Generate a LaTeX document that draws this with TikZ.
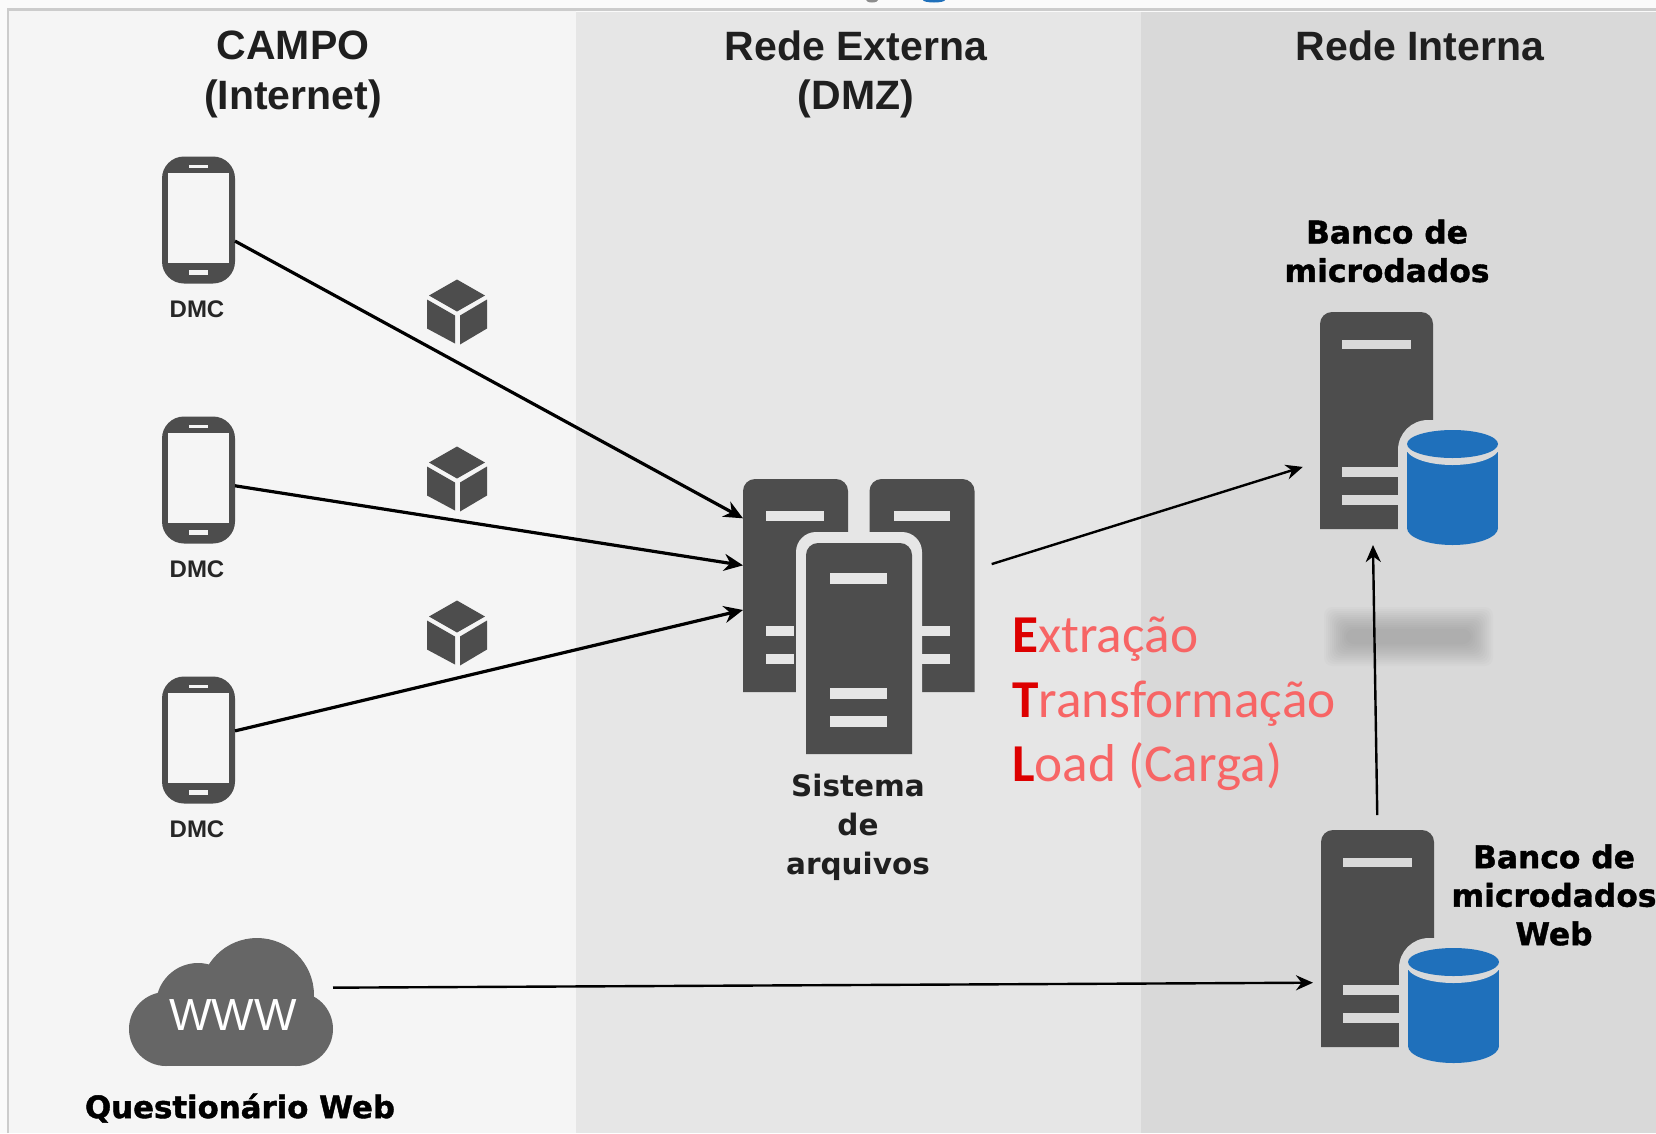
\documentclass[tikz,border=0pt]{standalone}
\usepackage{fontspec}
\setmainfont{Liberation Sans}
\newfontfamily\heavyfont{DejaVu Sans}
\newfontfamily\blackfont{DejaVu Sans}[BoldFeatures={FakeBold=1.3}]
\newfontfamily\etlfont{Carlito}
\usetikzlibrary{arrows.meta}
\definecolor{campobg}{HTML}{F5F5F5}
\definecolor{dmzbg}{HTML}{E6E6E6}
\definecolor{internabg}{HTML}{D9D9D9}
\definecolor{framegray}{HTML}{CCCCCC}
\definecolor{icongray}{HTML}{4D4D4D}
\definecolor{cloudgray}{HTML}{666666}
\definecolor{dbblue}{HTML}{1F70BB}
\definecolor{etlred}{HTML}{DD0000}
\definecolor{etlsoft}{HTML}{F76565}
\tikzset{
	headtxt/.style={align=center,text=black!88,font=\fontsize{41}{49.5}\selectfont\bfseries},
	heavytxt/.style={align=center,text=black,inner sep=0pt,font=\fontsize{31.3}{38.5}\selectfont\blackfont\bfseries},
	dmctxt/.style={text=black!85,inner sep=0pt,font=\fontsize{24}{28}\selectfont\bfseries},
	phonebody/.style={fill=icongray,minimum width=73pt,minimum height=127pt,inner sep=0pt,outer sep=0pt,rounded corners=22pt},
	phonescreen/.style={fill=campobg,minimum width=61pt,minimum height=90pt,inner sep=0pt,outer sep=0pt},
	srvbox/.style={minimum width=#1,minimum height=217pt,inner sep=0pt,outer sep=0pt},
	flow/.style={draw=black,line width=3.2pt,-{Stealth[length=19pt,width=17pt]}},
	thinflow/.style={draw=black,line width=2.4pt,-{Stealth[length=17pt,width=15pt]}}
}
\begin{document}
\begin{tikzpicture}[x=1pt,y=-1pt]
	\useasboundingbox (0,0) rectangle (1656,1133);
	\fill[white!98!black] (0,0) rectangle (1656,1133);
	% Marks above the frame
	\fill[black!45] (872,0) ellipse (6pt and 2.5pt);
	\fill[dbblue] (934,0) ellipse (11pt and 2.5pt);
	% Columns
	\fill[campobg] (8,10) rectangle (576,1133);
	\fill[dmzbg] (576,12) rectangle (1141,1133);
	\fill[internabg] (1141,12) rectangle (1656,1133);
	\draw[framegray,line width=2.6pt] (8,1133) -- (8,9.5) -- (1656,9.5);
	\node[headtxt] (headCampo) at (293,74.5) {CAMPO\\(Internet)};
	\node[headtxt] (headDmz) at (856,74.5) {Rede Externa\\(DMZ)};
	\node[headtxt] (headInterna) at (1420,46) {Rede Interna};
	% Phones
	\foreach \n/\y in {A/220,B/480,C/740}{
		\node[phonebody] (phone\n) at (198.5,\y) {};
		\node[phonescreen] (screen\n) at (198.5,\y-2) {};
		\fill[campobg] (189,\y-55) rectangle (208,\y-52);
		\fill[campobg] (189,\y+50) rectangle (208,\y+55);
		\node[dmctxt] (dmc\n) at (197,\y+89) {DMC};
	}
	% Cubes
	\foreach \y in {312.5,479.5,633.5}{
		\fill[icongray] (457,\y-33) -- (485,\y-17) -- (457,\y-1) -- (429,\y-17) -- cycle;
		\fill[icongray] (427,\y-13) -- (455,\y+3) -- (455,\y+31) -- (427,\y+16) -- cycle;
		\fill[icongray] (460,\y+3) -- (487,\y-13) -- (487,\y+16) -- (460,\y+32) -- cycle;
	}
	% File servers, back ones
	\foreach \n/\x/\s/\e/\l in {srvLeft/795.5/766/824/766,srvRight/922/894/950/922}{
		\node[srvbox=105pt,minimum height=213pt] (\n) at (\x,585.5) {};
		\fill[icongray] (\n.south west) [rounded corners=12pt] -- (\n.north west) -- (\n.north east) [sharp corners] -- (\n.south east) -- cycle;
		\fill[dmzbg] (\s,511) rectangle (\e,521);
		\fill[dmzbg] (\l,626) rectangle (\l+28,636);
		\fill[dmzbg] (\l,654) rectangle (\l+28,664);
	}
	% File server, front one
	\fill[dmzbg,rounded corners=20pt] (796,770) -- (796,532) -- (922,532) -- (922,770) -- cycle;
	\fill[dmzbg] (796,700) rectangle (922,770);
	\node[srvbox=106pt,minimum height=211pt] (srvFront) at (859,648.5) {};
	\fill[icongray] (srvFront.south west) [rounded corners=12pt] -- (srvFront.north west) -- (srvFront.north east) [sharp corners] -- (srvFront.south east) -- cycle;
	\foreach \y in {573,688,716}{
		\fill[dmzbg] (830,\y) rectangle (887,\y+10.5);
	}
	\node[heavytxt,text=black!88,font=\fontsize{29.5}{39}\selectfont\heavyfont\bfseries] (sistema) at (858,827) {Sistema\\de\\arquivos};
	% Database servers
	\foreach \n/\x/\y in {dbA/0/0,dbB/1/518}{
		\node[srvbox=113pt] (\n) at (1376.5+\x,420.5+\y) {};
		\fill[icongray] (\n.south west) [rounded corners=12pt] -- (\n.north west) -- (\n.north east) [sharp corners] -- (\n.south east) -- cycle;
		\fill[internabg] (1342+\x,340+\y) rectangle (1411+\x,349+\y);
		\fill[internabg] (1342+\x,467+\y) rectangle (1400+\x,477+\y);
		\fill[internabg] (1342+\x,495+\y) rectangle (1400+\x,505+\y);
		\fill[internabg,rounded corners=30pt] (1398+\x,570+\y) -- (1398+\x,420+\y) -- (1510+\x,420+\y) -- (1510+\x,570+\y) -- cycle;
		\fill[internabg] (1398+\x,480+\y) rectangle (1470+\x,560+\y);
		% Cylinder
		\fill[dbblue] (1407+\x,452+\y) rectangle (1498+\x,528+\y);
		\fill[dbblue] (1452.5+\x,528+\y) ellipse (45.5pt and 17pt);
		\fill[internabg] (1452.5+\x,447+\y) ellipse (47pt and 18pt);
		\fill[dbblue] (1452.5+\x,444+\y) ellipse (45.5pt and 14pt);
	}
	\node[heavytxt] (bancoA) at (1387,251) {Banco de\\microdados};
	\node[heavytxt] (bancoB) at (1554,895) {Banco de\\microdados\\Web};
	% Blurred text
	\foreach \i in {0,1,...,11}{
		\fill[black,opacity=0.016,rounded corners=8pt] (1324+2*\i,607+2*\i) rectangle (1493-2*\i,666-2*\i);
	}
	% Cloud
	\foreach \x/\y/\r in {166/1029/37,296/1029/37,257/995/57,198/1005/42}{
		\fill[cloudgray] (\x,\y) circle (\r pt);
	}
	\fill[cloudgray] (166,1000) rectangle (296,1066);
	\node[minimum width=204pt,minimum height=128pt,inner sep=0pt,outer sep=0pt] (cloud) at (231,1002) {};
	\node[text=white,inner sep=0pt,font=\fontsize{45}{50}\selectfont] (www) at (233,1015) {WWW};
	\node[heavytxt,font=\fontsize{30.8}{38}\selectfont\blackfont\bfseries] (quest) at (240,1108) {Questionário Web};
	% ETL
	\node[anchor=west,align=left,inner sep=0pt,text=etlsoft,font=\fontsize{53.3}{64.3}\selectfont\etlfont] (etl) at (1012,704)
		{\textcolor{etlred}{\textbf{E}}xtração\\\textcolor{etlred}{\textbf{T}}ransformação\\\textcolor{etlred}{\textbf{L}}oad (Carga)};
	% Arrows
	\draw[flow] (phoneA.-30) -- (srvLeft.128.7);
	\draw[flow] (phoneB.-9) -- (srvLeft.159.6);
	\draw[flow] (phoneC.14) -- (srvLeft.205);
	\draw[thinflow,shorten <=18pt,shorten >=18pt] (srvRight.17) -- (dbA.216);
	\draw[thinflow,shorten <=15pt,shorten >=16pt] (dbB.90) -- (dbA.268);
	\draw[thinflow,shorten >=8pt] (cloud.8.4) -- (dbB.218.8);
\end{tikzpicture}
\end{document}
